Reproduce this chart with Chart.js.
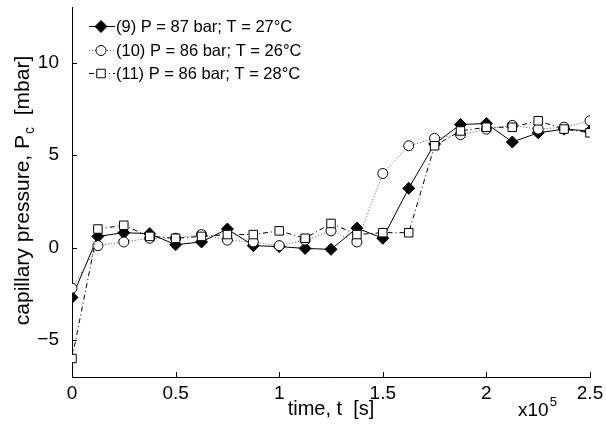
<!DOCTYPE html>
<html>
<head>
<meta charset="utf-8">
<script src="https://cdn.jsdelivr.net/npm/chart.js@4/dist/chart.umd.min.js"></script>
<style>
  html, body { margin: 0; padding: 0; background: #fff; }
  #wrap { width: 606px; height: 427px; }
</style>
</head>
<body>
<div id="wrap"><canvas id="c"></canvas></div>
<script>
// time in units of 10^5 s
const timeE5 = [0, 0.125, 0.25, 0.375, 0.5, 0.625, 0.75, 0.875, 1.0, 1.125, 1.25,
                1.375, 1.5, 1.625, 1.75, 1.875, 2.0, 2.125, 2.25, 2.375, 2.5];

// capillary pressure [mbar]
const run9  = [-2.7, 0.6, 0.8, 0.75, 0.15, 0.3, 1.0, 0.1, 0.05, -0.05, -0.1,
               1.05, 0.5, 3.2, 5.6, 6.65, 6.7, 5.7, 6.2, 6.4, 6.3];
const run10 = [-2.2, 0.1, 0.3, 0.5, 0.5, 0.7, 0.4, 0.3, 0.1, 0.4, 0.9,
               0.3, 4.0, 5.5, 5.9, 6.1, 6.4, 6.6, 6.4, 6.5, 6.85];
const run11 = [-6.0, 1.0, 1.2, 0.6, 0.5, 0.6, 0.7, 0.7, 0.9, 0.5, 1.3,
               0.7, 0.8, 0.8, 5.5, 6.3, 6.5, 6.5, 6.85, 6.4, 6.2];

const seriesLabels = ['(9) P = 87 bar; T = 27°C', '(10) P = 86 bar; T = 26°C', '(11) P = 86 bar; T = 28°C'];
const xTicks = [0, 0.5, 1, 1.5, 2, 2.5];
const yTicks = [-5, 0, 5, 10];

const FONT = "'Liberation Sans', Arial, Helvetica, sans-serif";

const pts = vals => vals.map((v, i) => ({ x: timeE5[i], y: v }));

// MATLAB style ticks pointing into the plot
const innerTicks = {
  id: 'innerTicks',
  afterDatasetsDraw(chart) {
    const { ctx, chartArea: a, scales: { x, y } } = chart;
    ctx.save();
    ctx.strokeStyle = '#000';
    ctx.lineWidth = 1;
    ctx.beginPath();
    xTicks.forEach(v => {
      const px = Math.round(x.getPixelForValue(v)) + 0.5;
      ctx.moveTo(px, a.bottom);
      ctx.lineTo(px, a.bottom - 5);
    });
    yTicks.forEach(v => {
      const py = Math.round(y.getPixelForValue(v)) + 0.5;
      ctx.moveTo(a.left, py);
      ctx.lineTo(a.left + 5, py);
    });
    ctx.stroke();
    ctx.restore();
  }
};

function marker(ctx, ds, cx, cy) {
  const r = ds.pointRadius;
  ctx.save();
  ctx.setLineDash([]);
  ctx.lineWidth = 1;
  ctx.strokeStyle = ds.pointBorderColor;
  ctx.fillStyle = ds.pointBackgroundColor;
  ctx.beginPath();
  if (ds.pointStyle === 'circle') {
    ctx.arc(cx, cy, r, 0, Math.PI * 2);
  } else if (ds.pointStyle === 'rect') {
    const s = Math.SQRT1_2 * r;
    ctx.rect(cx - s, cy - s, 2 * s, 2 * s);
  } else {
    ctx.moveTo(cx, cy - r); ctx.lineTo(cx + r, cy);
    ctx.lineTo(cx, cy + r); ctx.lineTo(cx - r, cy);
    ctx.closePath();
  }
  ctx.fill();
  ctx.stroke();
  ctx.restore();
}

const legendTitles = {
  id: 'legendTitles',
  afterDraw(chart) {
    const { ctx } = chart;
    ctx.save();
    ctx.fillStyle = '#000';
    ctx.font = '16.5px ' + FONT;
    ctx.textBaseline = 'middle';
    const rows = [26, 50, 73];
    chart.data.datasets.forEach((ds, i) => {
      const yy = rows[i] + 0.5;
      ctx.save();
      ctx.strokeStyle = ds.borderColor;
      ctx.lineWidth = ds.borderWidth;
      ctx.setLineDash(ds.borderDash || []);
      ctx.beginPath();
      ctx.moveTo(89, yy);
      ctx.lineTo(115, yy);
      ctx.stroke();
      ctx.restore();
      marker(ctx, ds, 101, yy);
      ctx.fillText(ds.label, 116, rows[i] + 1);
    });

    // x title
    ctx.font = '20px ' + FONT;
    ctx.textBaseline = 'alphabetic';
    ctx.textAlign = 'center';
    ctx.fillText('time, t  [s]', 331, 415);
    // exponent
    ctx.font = '19px ' + FONT;
    ctx.textAlign = 'left';
    ctx.fillText('x10', 518, 416);
    const w = ctx.measureText('x10').width;
    ctx.font = '13px ' + FONT;
    ctx.fillText('5', 518 + w + 1, 406);

    // y title with subscript
    ctx.translate(24, 191);
    ctx.rotate(-Math.PI / 2);
    const partA = 'capillary pressure, P', partB = 'c', partC = '  [mbar]';
    ctx.font = '21px ' + FONT;
    const wa = ctx.measureText(partA).width, wc = ctx.measureText(partC).width;
    ctx.font = '14px ' + FONT;
    const wb = ctx.measureText(partB).width;
    const sx = -(wa + wb + wc) / 2;
    ctx.font = '21px ' + FONT;
    ctx.fillText(partA, sx, 5);
    ctx.font = '14px ' + FONT;
    ctx.fillText(partB, sx + wa + 1, 10);
    ctx.font = '21px ' + FONT;
    ctx.fillText(partC, sx + wa + wb + 1, 5);
    ctx.restore();
  }
};

new Chart(document.getElementById('c'), {
  type: 'line',
  data: {
    datasets: [
      {
        label: seriesLabels[0], data: pts(run9), order: 3,
        borderColor: '#000', borderWidth: 1, borderDash: [],
        pointStyle: 'rectRot', pointRadius: 6, pointBackgroundColor: '#000', pointBorderColor: '#000', pointBorderWidth: 1,
        tension: 0
      },
      {
        label: seriesLabels[1], data: pts(run10), order: 2,
        borderColor: '#555', borderWidth: 1, borderDash: [1, 2],
        pointStyle: 'circle', pointRadius: 5, pointBackgroundColor: '#fff', pointBorderColor: '#000', pointBorderWidth: 1,
        tension: 0
      },
      {
        label: seriesLabels[2], data: pts(run11), order: 1,
        borderColor: '#000', borderWidth: 1, borderDash: [5, 3, 1, 3],
        pointStyle: 'rect', pointRadius: 6, pointBackgroundColor: '#fff', pointBorderColor: '#000', pointBorderWidth: 1,
        tension: 0
      }
    ]
  },
  options: {
    responsive: true,
    maintainAspectRatio: false,
    animation: false,
    devicePixelRatio: 1,
    layout: { padding: { left: 10, right: 16, top: 5, bottom: 0 } },
    plugins: { legend: { display: false }, tooltip: { enabled: false } },
    scales: {
      x: {
        type: 'linear', min: 0, max: 2.5,
        afterBuildTicks: s => { s.ticks = xTicks.map(v => ({ value: v })); },
        afterFit: s => { s.height = 50; s.paddingLeft = 0; s.paddingRight = 0; },
        grid: { display: false },
        border: { display: true, color: '#000', width: 1 },
        ticks: { color: '#000', font: { family: FONT, size: 19 }, padding: -3, maxRotation: 0,
                 callback: v => String(v) }
      },
      y: {
        type: 'linear', min: -7, max: 13,
        afterBuildTicks: s => { s.ticks = yTicks.map(v => ({ value: v })); },
        afterFit: s => { s.width = 62; s.paddingTop = 0; s.paddingBottom = 0; },
        grid: { display: false },
        border: { display: true, color: '#000', width: 1 },
        ticks: { color: '#000', font: { family: FONT, size: 19 }, padding: 5,
                 callback: v => (v < 0 ? '\u2212' + Math.abs(v) : String(v)) }
      }
    }
  },
  plugins: [innerTicks, legendTitles]
});
</script>
</body>
</html>
